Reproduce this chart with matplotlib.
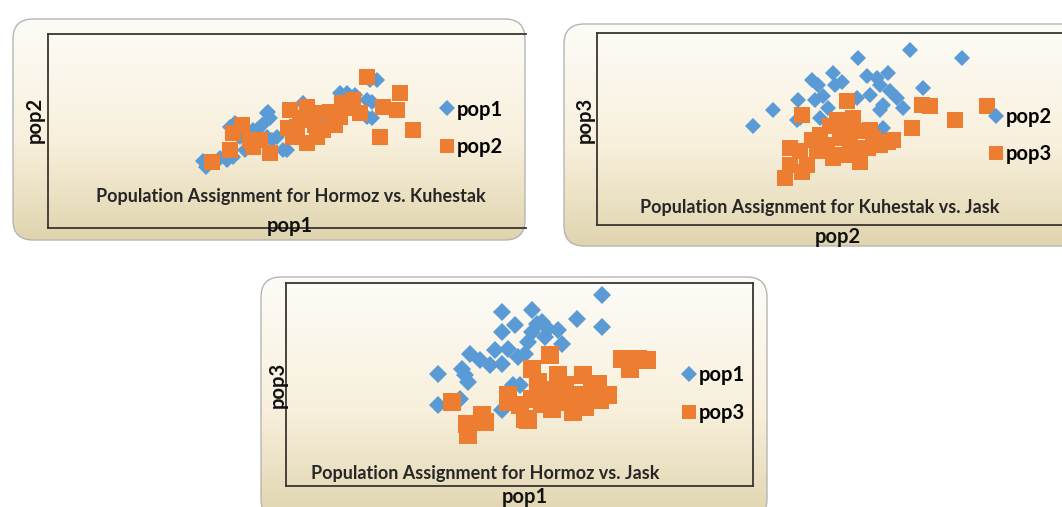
"""Population assignment scatter plots (three panels, Excel style)."""

import numpy as np
import matplotlib
matplotlib.use("Agg")
import matplotlib.pyplot as plt
from matplotlib.patches import FancyBboxPatch
from matplotlib.lines import Line2D

plt.rcParams["font.family"] = ["Lato", "DejaVu Sans"]

BLUE = "#5B9BD5"
ORANGE = "#ED7D31"

# ---- data (arbitrary assignment-score units) ----
hk_pop1_x = [3.22, 3.28, 3.71, 3.84, 3.78, 3.88, 3.98, 4.09, 4.25, 4.34, 4.54, 4.56, 4.61,
             4.54, 4.65, 4.75, 4.88, 4.96, 5.29, 5.64, 5.85, 6.06, 6.20, 6.62, 6.72, 6.62,
             6.72, 6.68, 6.83, 3.57, 4.44, 5.44, 6.37]
hk_pop1_y = [3.44, 3.13, 3.49, 3.64, 5.18, 5.38, 4.67, 4.00, 5.03, 5.03, 5.90, 5.95, 5.64,
             4.67, 4.51, 4.67, 4.00, 4.00, 6.41, 5.69, 5.54, 6.92, 6.92, 6.56, 6.46, 5.69,
             5.64, 7.59, 7.59, 3.59, 5.28, 6.05, 6.82]
hk_pop2_x = [3.40, 3.78, 3.84, 4.19, 4.25, 4.40, 4.61, 4.02, 5.02, 5.37, 5.44, 5.08, 5.58,
             5.17, 5.71, 5.37, 5.23, 5.54, 6.06, 6.10, 6.33, 6.47, 6.27, 6.62, 6.95, 7.24,
             7.30, 7.57, 6.89, 5.85, 5.95, 4.98, 5.64]
hk_pop2_y = [3.38, 4.00, 4.87, 4.51, 4.15, 4.51, 3.85, 5.28, 6.05, 6.21, 5.54, 4.67, 4.67,
             5.18, 5.03, 4.36, 5.64, 5.28, 5.69, 6.41, 6.56, 5.90, 6.15, 7.74, 6.21, 6.05,
             6.92, 5.03, 4.67, 5.95, 5.28, 5.13, 5.90]

kj_pop2_x = [3.26, 3.68, 4.21, 4.25, 4.50, 4.62, 4.94, 4.98, 4.73, 4.83, 4.67, 4.18, 5.46,
             6.55, 7.64, 5.65, 5.86, 6.09, 5.92, 6.13, 6.28, 5.98, 5.92, 6.40, 6.82, 5.44,
             5.98, 5.13, 5.71, 4.56]
kj_pop2_y = [5.16, 5.99, 6.51, 5.57, 7.55, 7.29, 7.92, 7.29, 6.72, 6.09, 5.57, 5.47, 8.70,
             9.11, 8.70, 7.76, 7.66, 7.92, 7.29, 6.98, 6.61, 6.25, 5.99, 6.09, 7.14, 6.61,
             5.05, 7.45, 6.77, 6.51]
kj_pop3_x = [4.29, 5.23, 4.87, 5.02, 5.36, 5.44, 5.08, 4.81, 5.15, 5.56, 5.77, 5.92, 6.19,
             6.59, 6.80, 6.97, 7.49, 8.16, 4.04, 4.25, 4.39, 4.04, 3.93, 4.29, 4.94, 4.60,
             5.46, 5.67, 6.09, 5.29, 4.67, 5.19, 5.71, 4.50, 5.50]
kj_pop3_y = [5.73, 6.46, 5.16, 5.47, 5.57, 4.90, 4.53, 4.17, 3.65, 4.01, 4.53, 4.17, 4.43,
             5.05, 6.25, 6.20, 5.47, 6.20, 4.01, 3.85, 3.13, 3.13, 2.45, 2.76, 3.49, 3.85,
             3.65, 4.01, 4.32, 4.43, 4.69, 5.21, 4.95, 4.43, 3.28]

hj_pop1_x = [3.35, 3.35, 3.88, 3.94, 4.01, 4.05, 4.27, 4.49, 4.76, 4.76, 4.76, 5.04, 5.42,
             5.53, 5.33, 5.11, 5.26, 4.89, 5.77, 5.99, 6.08, 6.41, 6.96, 6.96, 5.00, 5.15,
             3.83, 4.76, 5.42, 5.64, 5.70, 4.60]
hj_pop1_y = [5.44, 3.85, 5.69, 5.38, 5.03, 6.46, 6.15, 5.90, 5.95, 8.62, 7.59, 7.95, 8.72,
             8.00, 7.08, 6.31, 6.46, 6.72, 7.74, 7.69, 6.97, 8.26, 9.49, 7.85, 4.87, 4.87,
             4.15, 3.59, 7.59, 8.10, 7.33, 6.67]
hj_pop3_x = [3.66, 3.99, 4.01, 4.38, 4.32, 4.89, 4.89, 5.42, 5.81, 5.55, 5.42, 5.99, 6.54,
             5.99, 6.37, 6.74, 6.87, 7.09, 6.32, 5.86, 5.26, 7.40, 7.75, 7.95, 7.58, 6.59,
             5.64, 6.08, 5.33, 5.70, 6.15, 5.15, 6.92]
hj_pop3_y = [4.00, 2.87, 2.31, 2.97, 3.33, 4.00, 4.36, 5.69, 6.41, 5.03, 4.15, 5.38, 5.38,
             4.51, 4.36, 4.67, 4.92, 4.36, 3.49, 3.64, 3.13, 6.21, 6.21, 6.15, 5.69, 3.74,
             3.90, 4.00, 3.08, 4.62, 4.87, 3.85, 4.10]

W, H = 1062, 507
fig = plt.figure(figsize=(W / 100, H / 100), dpi=100)


def rect(left, top, right, bottom):
    return [left / W, 1 - bottom / H, (right - left) / W, (bottom - top) / H]


def panel_box(left, top, right, bottom):
    # rounded box with a white -> tan vertical gradient
    bx = fig.add_axes(rect(left, top, right, bottom), zorder=0)
    w, h = right - left, bottom - top
    bx.set_xlim(0, w)
    bx.set_ylim(0, h)
    bx.axis("off")
    t = np.linspace(0, 1, 256)[:, None]
    top_c = np.array([253, 252, 248]) / 255
    mid_c = np.array([248, 240, 220]) / 255
    bot_c = np.array([224, 212, 174]) / 255
    grad = np.where(t < 0.55, top_c + (mid_c - top_c) * (t / 0.55),
                    mid_c + (bot_c - mid_c) * ((t - 0.55) / 0.45))
    img = bx.imshow(grad[:, None, :].repeat(2, axis=1), extent=[0, w, 0, h],
                    aspect="auto", origin="upper")
    box = FancyBboxPatch((1, 1), w - 2, h - 2, boxstyle="round,pad=0,rounding_size=20",
                         facecolor="none", edgecolor="#B5B5B5", linewidth=1.0)
    bx.add_patch(box)
    img.set_clip_path(box)


def scatter_panel(ax_rect, xlim, ylim, blue, orange, labels, title, title_pos, leg_pos,
                  hide_right=True, ms_sq=12, ms_d=8.5):
    ax = fig.add_axes(ax_rect, zorder=1)
    ax.patch.set_alpha(0)
    ax.plot(blue[0], blue[1], "D", color=BLUE, markersize=ms_d, linestyle="none",
            markeredgewidth=0, label=labels[0])
    ax.plot(orange[0], orange[1], "s", color=ORANGE, markersize=ms_sq, linestyle="none",
            markeredgewidth=0, label=labels[1])
    ax.set_xlim(*xlim)
    ax.set_ylim(*ylim)
    ax.set_xticks([])
    ax.set_yticks([])
    for s in ax.spines.values():
        s.set_color("#3A3530")
        s.set_linewidth(1.3)
    if hide_right:
        ax.spines["right"].set_visible(False)
    ax.text(title_pos[0], title_pos[1], title, transform=ax.transAxes, ha="center",
            va="center", fontsize=13, fontweight="bold", color="#262626")
    handles = [Line2D([], [], marker="D", color=BLUE, linestyle="none", markersize=8,
                      markeredgewidth=0),
               Line2D([], [], marker="s", color=ORANGE, linestyle="none", markersize=10.5,
                      markeredgewidth=0)]
    ax.legend(handles, labels, loc="center left", bbox_to_anchor=leg_pos, frameon=False,
              prop={"weight": "bold", "size": 14.5}, handlelength=0.7, handletextpad=0.15,
              labelspacing=0.85, borderpad=0, borderaxespad=0)
    return ax


def label(px, py, s, rot=0):
    fig.text(px / W, 1 - py / H, s, ha="center", va="center", rotation=rot,
             fontsize=14.5, fontweight="bold", color="#111111", zorder=3)


# Panel 1: Hormoz vs. Kuhestak
panel_box(12, 18, 526, 241)
scatter_panel(rect(48, 34, 526, 228), (0, 9.92), (0, 9.95),
              (hk_pop1_x, hk_pop1_y), (hk_pop2_x, hk_pop2_y), ["pop1", "pop2"],
              "Population Assignment for Hormoz vs. Kuhestak", (0.509, 0.164), (0.82, 0.515))
label(290, 226, "pop1")
label(35, 120, "pop2", rot=90)

# Panel 2: Kuhestak vs. Jask
panel_box(563, 23, 1090, 247)
scatter_panel(rect(597, 33, 1075, 225), (0, 10.0), (0, 10.0),
              (kj_pop2_x, kj_pop2_y), (kj_pop3_x, kj_pop3_y), ["pop2", "pop3"],
              "Population Assignment for Kuhestak vs. Jask", (0.467, 0.089), (0.82, 0.464))
label(838, 237, "pop2")
label(585, 120, "pop3", rot=90)

# Panel 3: Hormoz vs. Jask
panel_box(260, 276, 768, 520)
scatter_panel(rect(286, 283, 753, 486), (0, 10.29), (-0.31, 10.10),
              (hj_pop1_x, hj_pop1_y), (hj_pop3_x, hj_pop3_y), ["pop1", "pop3"],
              "Population Assignment for Hormoz vs. Jask", (0.426, 0.064), (0.848, 0.453),
              hide_right=False, ms_sq=12.5, ms_d=8.8)
label(525, 497, "pop1")
label(278, 385, "pop3", rot=90)

fig.savefig("out.png", dpi=100)
